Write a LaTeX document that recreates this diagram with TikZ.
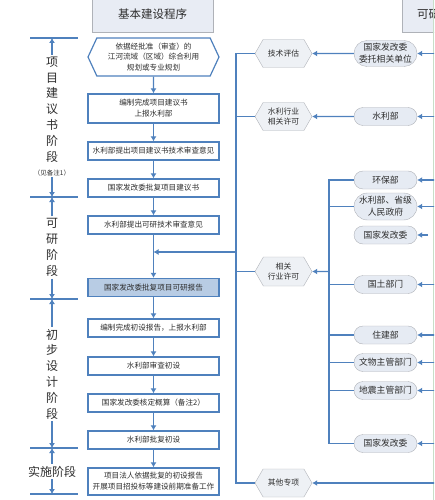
\documentclass[tikz,border=0pt]{standalone}
\usepackage{fontspec}
\setmainfont{Noto Sans CJK SC}
\usepackage{xcolor}
\usetikzlibrary{arrows.meta,shapes.misc,shapes.symbols}
\definecolor{lin}{RGB}{79, 129, 189}
\definecolor{fil}{RGB}{184, 204, 228}
\definecolor{pil}{RGB}{230, 235, 243}
\definecolor{hxf}{RGB}{238, 241, 245}
\definecolor{hdr}{RGB}{232, 236, 244}
\definecolor{bor}{RGB}{175, 178, 184}
\definecolor{txt}{RGB}{45, 45, 45}
\definecolor{edg}{RGB}{200, 222, 200}
\tikzset{
  conn/.style={draw=lin, line width=1.4pt},
  arr/.style={conn, -{Latex[length=5pt,width=6pt]}},
  stepbox/.style={draw=lin, line width=1.2pt, fill=white, minimum width=131pt,
    minimum height=18pt, inner sep=1pt, align=center, text=txt,
    font=\fontsize{7.6}{11}\selectfont},
  planbox/.style={stepbox, signal, signal to=west and east, signal pointer angle=130,
    minimum height=38pt, font=\fontsize{7.6}{10.5}\selectfont},
  hexa/.style={signal, signal to=west and east, signal pointer angle=120, draw=bor,
    fill=hxf, minimum width=57pt, minimum height=28pt, inner sep=1pt, align=center,
    text=txt, font=\fontsize{7.8}{9.5}\selectfont},
  pill/.style={rounded rectangle, draw=bor, fill=pil, minimum width=65pt,
    minimum height=18pt, inner sep=1pt, align=center, text=txt,
    font=\fontsize{8.8}{12}\selectfont},
  hdrbox/.style={draw=bor, fill=hdr, minimum height=36pt, inner sep=1pt, text=txt,
    font=\fontsize{11.5}{14}\selectfont},
  stg/.style={align=center, inner sep=2pt, text=txt, font=\fontsize{12}{15.8}\selectfont},
  note/.style={inner sep=1pt, text=txt, font=\fontsize{6.5}{8}\selectfont}
}
\begin{document}
\begin{tikzpicture}[x=1pt, y=-1pt]
  \useasboundingbox (0, 0) rectangle (434, 500);
  \clip (0, 0) rectangle (434, 500);
  \node[hdrbox, minimum width=121pt] (hdL) at (152.5, 14) {基本建设程序};
  \node[hdrbox, anchor=west, text width=60pt, inner xsep=15pt] (hdR) at (402, 14) {可研};
  \draw[draw=edg, line width=0.6pt] (433, 0) -- (433, 500);

  \node[planbox] (b1) at (153.5, 57) {依据经批准（审查）的\\江河流域（区域）综合利用\\规划或专业规划};
  \node[stepbox, minimum height=29pt] (b2) at (153.5, 108.5) {编制完成项目建议书\\上报水利部};
  \node[stepbox] (b3) at (153.5, 151) {水利部提出项目建议书技术审查意见};
  \node[stepbox] (b4) at (153.5, 188) {国家发改委批复项目建议书};
  \node[stepbox] (b5) at (153.5, 225) {水利部提出可研技术审查意见};
  \node[stepbox, fill=fil] (b6) at (153.5, 287.5) {国家发改委批复项目可研报告};
  \node[stepbox] (b7) at (153.5, 328) {编制完成初设报告，上报水利部};
  \node[stepbox] (b8) at (153.5, 366) {水利部审查初设};
  \node[stepbox] (b9) at (153.5, 403) {国家发改委核定概算（备注2）};
  \node[stepbox] (b10) at (153.5, 440) {水利部批复初设};
  \node[stepbox, minimum height=27pt] (b11) at (153.5, 481.5) {项目法人依据批复的初设报告\\开展项目招投标等建设前期准备工作};
  \foreach \a/\b in {b1/b2, b2/b3, b3/b4, b4/b5, b5/b6, b6/b7, b7/b8, b8/b9, b9/b10, b10/b11}
    \draw[arr] (\a) -- (\b);

  \foreach \n/\y in {d1/38, d2/197, d3/299, d4/448, d5/494} {
    \coordinate (\n) at (52, \y);
    \coordinate (\n l) at (30, \y);
    \coordinate (\n r) at (78, \y);
    \draw[conn] (\n l) -- (\n r);
  }
  \node[stg] (s1) at (52, 109.5) {项\\目\\建\\议\\书\\阶\\段};
  \node[note] (n1) at (52, 173) {（见备注1）};
  \node[stg] (s2) at (52, 247.5) {可\\研\\阶\\段};
  \node[stg] (s3) at (52, 374) {初\\步\\设\\计\\阶\\段};
  \node[stg] (s4) at (52, 471.5) {实施阶段};
  \draw[arr] (s1) -- (d1);
  \draw[arr] (n1) -- (d2);
  \draw[arr] (s2) -- (d2);
  \draw[arr] (s2) -- (d3);
  \draw[arr] (s3) -- (d3);
  \draw[arr] (s3) -- (d4);
  \draw[arr] (s4) -- (d4);
  \draw[arr] (s4) -- (d5);

  \node[hexa] (t1) at (283.5, 53.5) {技术评估};
  \node[hexa] (t2) at (283.5, 116.5) {水利行业\\相关许可};
  \node[hexa, minimum height=29pt] (t3) at (283.5, 271.5) {相关\\行业许可};
  \node[hexa] (t4) at (283.5, 483) {其他专项};

  \node[pill, minimum height=26pt] (p1) at (385.5, 53.5) {国家发改委\\委托相关单位};
  \node[pill] (p2) at (385.5, 116.5) {水利部};
  \node[pill] (p3) at (385.5, 180) {环保部};
  \node[pill, minimum height=27pt] (p4) at (385.5, 206.5) {水利部、省级\\人民政府};
  \node[pill] (p5) at (385.5, 235) {国家发改委};
  \node[pill] (p6) at (385.5, 284.5) {国土部门};
  \node[pill] (p7) at (385.5, 335) {住建部};
  \node[pill] (p8) at (385.5, 362.5) {文物主管部门};
  \node[pill] (p9) at (385.5, 390.5) {地震主管部门};
  \node[pill] (p10) at (385.5, 443.5) {国家发改委};

  \coordinate (edge) at (436, 0);
  \coordinate (edge2) at (428, 0);
  \foreach \p in {p1, p2, p3, p4, p6, p7, p8, p9, p10}
    \draw[arr] (\p.east -| edge) -- (\p.east);
  \draw[arr] (p5.east -| edge2) -- (p5.east);
  \draw[arr] (t4.east -| edge) -- (t4.east);
  \draw[arr] (p1) -- (t1);
  \draw[arr] (p2) -- (t2);

  \coordinate (hub) at (329, 271.5);
  \draw[conn] (p3.west) -| (hub |- p10.west) -- (p10.west);
  \foreach \p in {p4, p6, p7, p8, p9}
    \draw[conn] (\p.west) -- (\p.west -| hub);
  \draw[arr] (hub) -- (t3);

  \coordinate (bus) at (236, 252);
  \draw[conn] (t1.west) -| (bus |- t4.west) -- (t4.west);
  \draw[conn] (t2.west) -- (t2.west -| bus);
  \draw[conn] (t3.west) -- (t3.west -| bus);
  \draw[arr] (bus) -- (b5.south |- bus);
\end{tikzpicture}
\end{document}
